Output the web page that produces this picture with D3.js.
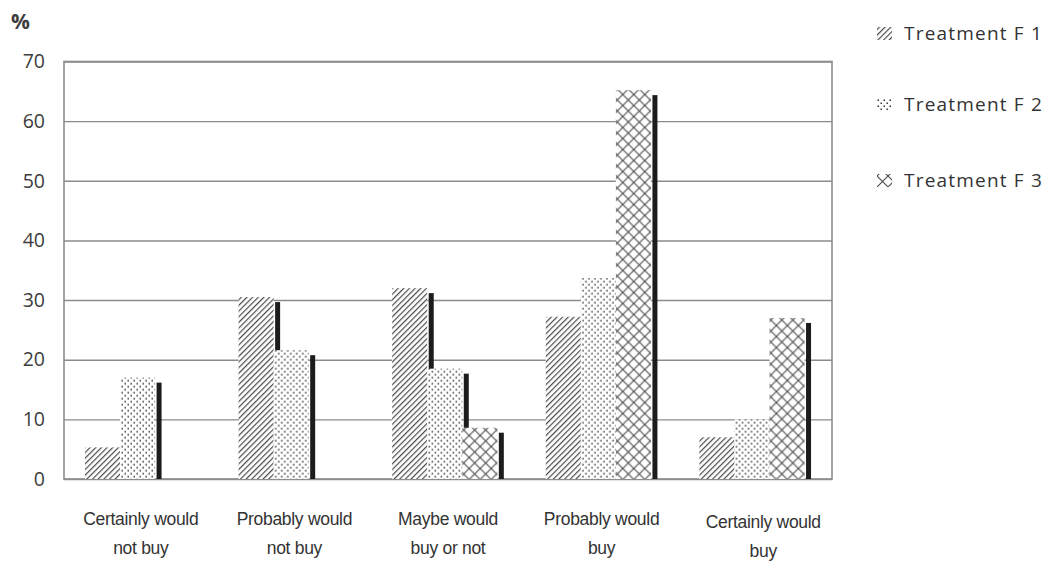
<!DOCTYPE html>
<html>
<head>
<meta charset="utf-8">
<script src="https://cdn.jsdelivr.net/npm/d3@7"></script>
<style>
  html, body { margin: 0; padding: 0; background: #fff; }
  svg { display: block; }
</style>
</head>
<body>
<svg id="chart" width="1051" height="562"></svg>
<script>
// Purchase intention by treatment (%)
const categories = [
  ["Certainly would", "not buy"],
  ["Probably would", "not buy"],
  ["Maybe would", "buy or not"],
  ["Probably would", "buy"],
  ["Certainly would", "buy"]
];
const seriesNames = ["Treatment F1", "Treatment F2", "Treatment F3"];
const f1Values = [5.3, 30.5, 32.0, 27.2, 7.0];
const f2Values = [17.0, 21.6, 18.5, 33.7, 10.0];
const f3Values = [0, 0, 8.6, 65.2, 27.0];
const yTicks = [0, 10, 20, 30, 40, 50, 60, 70];

const seriesValues = [f1Values, f2Values, f3Values];
const patternIds = ["pat-hatch", "pat-dots", "pat-cross"];

const svg = d3.select("#chart");
const margin = { left: 64, right: 219, top: 61.5, bottom: 83 };
const W = 1051, H = 562;
const plotW = W - margin.left - margin.right;
const plotH = H - margin.top - margin.bottom;

// ---- fill patterns ----
const defs = svg.append("defs");
// diagonal hatching
const ph = defs.append("pattern").attr("id", "pat-hatch")
  .attr("patternUnits", "userSpaceOnUse").attr("width", 4).attr("height", 4)
  .attr("patternTransform", "rotate(45)");
ph.append("rect").attr("width", 4).attr("height", 4).attr("fill", "#fff");
ph.append("rect").attr("x", 0).attr("y", 0).attr("width", 1.2).attr("height", 4).attr("fill", "#4a4a4a");
// dotted fill
const pd = defs.append("pattern").attr("id", "pat-dots")
  .attr("patternUnits", "userSpaceOnUse").attr("width", 6).attr("height", 6);
pd.append("rect").attr("width", 6).attr("height", 6).attr("fill", "#fff");
pd.append("rect").attr("x", 0.5).attr("y", 0.5).attr("width", 1.5).attr("height", 1.5).attr("fill", "#333");
pd.append("rect").attr("x", 3.5).attr("y", 3.5).attr("width", 1.5).attr("height", 1.5).attr("fill", "#333");
// diamond cross-hatching
const pc = defs.append("pattern").attr("id", "pat-cross")
  .attr("patternUnits", "userSpaceOnUse").attr("width", 11).attr("height", 11);
pc.append("rect").attr("width", 11).attr("height", 11).attr("fill", "#fff");
pc.append("path").attr("d", "M0,0 L11,11 M11,0 L0,11")
  .attr("stroke", "#4a4a4a").attr("stroke-width", 1.1).attr("fill", "none");

// ---- scales ----
const x0 = d3.scaleBand()
  .domain(d3.range(categories.length))
  .range([0, plotW])
  .paddingInner(0.273)
  .paddingOuter(0.1365);
const shadowGap = 1.5, shadowW = 5, shadowDrop = 5;
const x1 = d3.scaleBand()
  .domain(d3.range(seriesNames.length))
  .range([0, x0.bandwidth() - shadowGap - shadowW]);
const y = d3.scaleLinear().domain([0, 70]).range([plotH, 0]);

const g = svg.append("g").attr("transform", `translate(${margin.left},${margin.top})`);

// gridlines
const grid = g.append("g")
  .call(d3.axisLeft(y).tickValues(yTicks).tickSize(-plotW).tickFormat(""));
grid.select(".domain").remove();
grid.selectAll("line").attr("stroke", "#8c8c8c").attr("stroke-width", 1.4);

// plot frame
g.append("rect").attr("x", 0).attr("y", 0).attr("width", plotW).attr("height", plotH)
  .attr("fill", "none").attr("stroke", "#8c8c8c").attr("stroke-width", 1.6);

// bars with dark side shadow, drawn series by series within each group
categories.forEach((c, i) => {
  const gg = g.append("g").attr("transform", `translate(${x0(i)},0)`);
  seriesValues.forEach((vals, s) => {
    const v = vals[i];
    if (v <= 0) return;
    const bx = x1(s), bw = x1.bandwidth();
    gg.append("rect")
      .attr("x", bx).attr("y", y(v))
      .attr("width", bw).attr("height", y(0) - y(v))
      .attr("fill", `url(#${patternIds[s]})`);
    gg.append("rect")
      .attr("x", bx + bw + shadowGap).attr("y", y(v) + shadowDrop)
      .attr("width", shadowW).attr("height", Math.max(0, y(0) - y(v) - shadowDrop))
      .attr("fill", "#1c1c1c");
  });
});

// y axis labels
const yAxis = g.append("g")
  .call(d3.axisLeft(y).tickValues(yTicks).tickSize(0).tickPadding(19));
yAxis.select(".domain").remove();
yAxis.selectAll("text")
  .attr("font-family", "'Open Sans', 'DejaVu Sans', sans-serif")
  .attr("font-size", 19.5).attr("fill", "#3d3d3d");

svg.append("text").attr("x", 11).attr("y", 29)
  .attr("font-family", "'Open Sans', 'DejaVu Sans', sans-serif")
  .attr("font-size", 21).attr("font-weight", "bold").attr("fill", "#3d3d3d")
  .text("%");

// category labels
const xl = g.append("g").attr("transform", `translate(0,${plotH})`);
categories.forEach((lines, i) => {
  const cx = x0(i) + x0.bandwidth() / 2 + (i === 4 ? 8 : 0);
  const t = xl.append("text")
    .attr("x", cx).attr("y", 0)
    .attr("text-anchor", "middle")
    .attr("font-family", "'Liberation Sans', Arial, sans-serif")
    .attr("font-size", 17.5).attr("fill", "#333")
    .attr("letter-spacing", -0.3);
  lines.forEach((ln, k) => {
    t.append("tspan").attr("x", cx)
      .attr("y", 46 + k * 29 + (i === 4 ? 3 : 0))
      .text(ln);
  });
});

// legend
const legendY = [40, 111, 187];
const lg = svg.append("g");
seriesNames.forEach((name, s) => {
  const row = lg.append("g").attr("transform", `translate(877,${legendY[s]})`);
  row.append("rect").attr("x", 0).attr("y", -13).attr("width", 15).attr("height", 13)
    .attr("fill", `url(#${patternIds[s]})`);
  row.append("text").attr("x", 27).attr("y", 0)
    .attr("font-family", "'Open Sans', 'DejaVu Sans', sans-serif")
    .attr("font-size", 19).attr("fill", "#333").attr("letter-spacing", 1.2)
    .text(name.replace("F", "F "));
});
</script>
</body>
</html>
